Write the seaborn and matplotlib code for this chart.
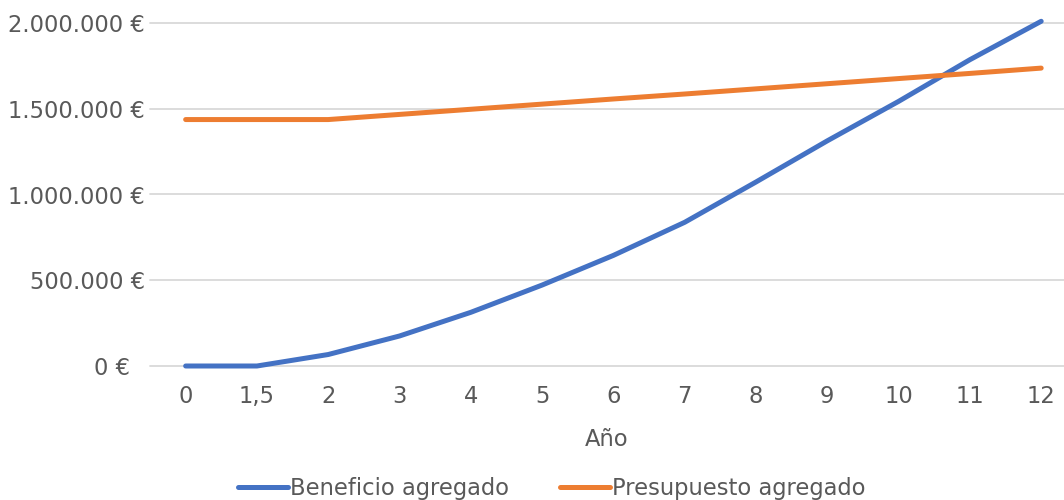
import matplotlib
matplotlib.use("Agg")
import matplotlib.pyplot as plt
import matplotlib.ticker as mticker
from matplotlib.lines import Line2D
import seaborn as sns
import pandas as pd

# Data
years = ["0", "1,5", "2", "3", "4", "5", "6", "7", "8", "9", "10", "11", "12"]
beneficio = [0, 0, 67000, 175000, 313000, 472000, 645000, 838000, 1073000,
             1313000, 1543000, 1786000, 2010000]
presupuesto = [1437000, 1437000, 1437000, 1467000, 1497000, 1527000, 1557000,
               1586000, 1616000, 1646000, 1676000, 1706000, 1737000]
series_names = ["Beneficio agregado", "Presupuesto agregado"]
y_ticks = [0, 500000, 1000000, 1500000, 2000000]
x_label = "Año"

colors = {"Beneficio agregado": "#4472C4", "Presupuesto agregado": "#ED7D31"}
text_color = "#595959"
fs = 16.3

df = pd.DataFrame({
    "Año": years * 2,
    "valor": beneficio + presupuesto,
    "serie": [series_names[0]] * len(years) + [series_names[1]] * len(years),
})

sns.set_theme(style="white")
plt.rcParams["font.family"] = ["DejaVu Sans"]

fig = plt.figure(figsize=(10.64, 5.0), dpi=100)
ax = fig.add_axes([150 / 1064, (500 - 366) / 500, (1064 - 150) / 1064, (366 - 23) / 500])

sns.lineplot(data=df, x="Año", y="valor", hue="serie", palette=colors,
             linewidth=3.6, ax=ax, legend=False, sort=False)
for ln in ax.lines:
    ln.set_solid_capstyle("round")
    ln.set_clip_on(False)
    ln.set_zorder(3)

ax.set_ylim(0, 2000000)
ax.set_xlim(-0.5, 12.32)
ax.set_yticks(y_ticks)
ax.yaxis.set_major_formatter(mticker.FuncFormatter(
    lambda v, p: (f"{int(v):,}".replace(",", ".") + " €") if v != 0 else "0 €  "))
ax.grid(axis="y", color="#D9D9D9", linewidth=1.3)
ax.grid(axis="x", visible=False)
for gl in ax.yaxis.get_gridlines():
    gl.set_clip_on(False)
ax.set_axisbelow(True)
for s in ax.spines.values():
    s.set_visible(False)

ax.tick_params(axis="y", length=0, pad=3.6, labelsize=fs, labelcolor=text_color)
ax.tick_params(axis="x", length=0, pad=14, labelsize=fs, labelcolor=text_color)

ax.set_xlabel(x_label, fontsize=fs, color=text_color)
ax.set_ylabel("")
ax.xaxis.set_label_coords(0.5, (366 - 440) / 343)
ax.xaxis.label.set_va("center")

handles = [Line2D([0], [0], color=colors[n], linewidth=3.6, solid_capstyle="round")
           for n in series_names]
leg = fig.legend(handles, series_names, loc="center", ncol=2,
                 bbox_to_anchor=(552 / 1064, 1 - 488 / 500), frameon=False,
                 fontsize=fs, handlelength=2.2, handletextpad=0.1,
                 columnspacing=2.25, borderpad=0, borderaxespad=0)
for t in leg.get_texts():
    t.set_color(text_color)

fig.savefig("out.png", dpi=100, facecolor="white")
